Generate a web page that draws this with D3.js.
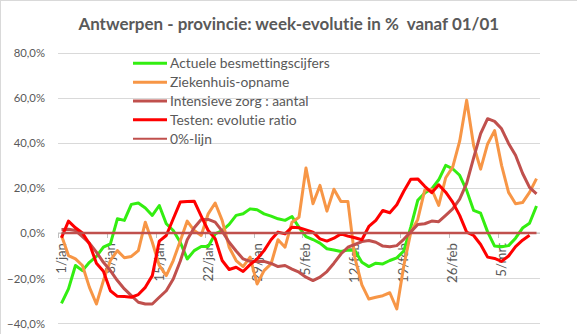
<!DOCTYPE html>
<html><head><meta charset="utf-8">
<script src="https://cdn.jsdelivr.net/npm/d3@7"></script>
<style>
body{margin:0;background:#fff}
svg{display:block}
text{font-family:Lato,"Open Sans",sans-serif;fill:#595959;font-variant-ligatures:none;font-feature-settings:"liga" 0,"clig" 0}
</style>
</head><body>
<svg id="chart" width="577" height="334"></svg>
<script>
// ---------- data ----------
const title = "Antwerpen - provincie: week-evolutie in %  vanaf 01/01";
const startDate = new Date(2021, 0, 1);
const dayCount = 69;
const xTickLabels = ["1/jan","8/jan","15/jan","22/jan","29/jan","5/feb","12/feb","19/feb","26/feb","5/mrt"];
const yTicks = [-40, -20, 0, 20, 40, 60, 80];

const besmettingen = [-31.2,-24.8,-14.4,-16.7,-13.0,-10.4,-6.3,-4.8,6.3,5.6,12.7,13.3,11.1,7.8,12.2,4.1,1.1,-4.1,-11.5,-7.8,-6.0,-6.0,-0.4,1.1,3.8,7.8,8.5,10.7,10.3,8.5,7.5,6.3,5.6,7.3,2.5,-1.6,-2.9,-4.5,-7.0,-7.5,-8.2,-7.5,-7.8,-13.0,-14.9,-13.4,-13.7,-12.2,-11.0,-8.0,2.6,14.5,17.7,19.6,23.6,30.0,28.5,25.6,18.9,10.0,8.8,0.5,-5.8,-6.1,-5.6,-2.3,2.2,4.3,12.0];
const ziekenhuis = [-1.1,-10.0,-11.5,-14.4,-24.1,-31.5,-21.1,-12.2,-7.8,-11.0,-10.4,-7.8,4.8,-4.1,-14.4,-18.9,-12.2,-3.5,5.3,1.1,-1.1,8.5,13.3,5.6,-6.3,-12.2,-14.9,-10.7,-22.6,-16.7,-13.7,-3.0,-6.3,4.8,7.0,28.8,13.0,21.1,9.7,19.4,14.0,14.0,-11.0,-23.0,-29.3,-28.5,-27.8,-26.5,-33.7,-14.5,0.2,6.0,19.0,19.4,12.2,24.5,29.2,40.7,58.9,38.8,28.3,39.5,45.4,30.0,18.0,13.0,13.5,18.0,24.1];
const intensieveZorg = [1.6,1.7,1.1,-1.6,-4.5,-8.5,-13.0,-16.7,-21.1,-24.8,-27.8,-30.7,-31.5,-31.5,-28.5,-25.6,-20.4,-12.5,-3.0,2.3,6.0,6.0,4.8,0.8,-4.1,-8.0,-11.5,-12.6,-12.6,-12.6,-13.5,-14.9,-14.4,-16.0,-17.4,-19.6,-21.1,-19.6,-17.1,-13.4,-9.3,-6.3,-5.1,-3.8,-3.3,-4.1,-5.8,-6.1,-5.6,-2.8,0.5,3.8,4.1,5.3,5.0,7.8,10.7,15.0,22.0,33.3,44.1,50.7,49.5,46.2,39.7,34.5,26.5,20.2,17.4];
const testen = [-2.1,5.3,2.3,0.0,-4.8,-13.4,-17.0,-25.6,-28.1,-28.2,-28.5,-27.3,-24.1,-18.9,-3.6,-1.1,6.3,13.7,14.0,14.1,7.5,1.1,-2.5,-12.2,-16.2,-15.2,-17.1,-14.0,-11.5,-7.8,-3.0,0.4,-0.4,2.6,2.3,1.4,0.4,-2.6,-3.6,-2.3,-0.4,-1.4,-2.1,-3.0,2.9,5.6,10.0,9.0,12.5,18.5,23.8,24.0,20.7,17.9,21.4,18.1,13.7,7.8,0.4,-1.1,-5.1,-10.7,-11.3,-12.6,-10.2,-6.0,-3.2,-1.0];
const nulLijn = new Array(69).fill(0);

const seriesNames = ["Actuele besmettingscijfers","Ziekenhuis-opname","Intensieve zorg : aantal","Testen: evolutie ratio","0%-lijn"];
const seriesValues = [besmettingen, ziekenhuis, intensieveZorg, testen, nulLijn];
const seriesColors = ["#33ee11","#f79646","#c0504d","#ff0000","#c0504d"];
const seriesWidths = [3, 3, 3, 3, 2.5];

// ---------- layout ----------
const svg = d3.select("#chart");
const plot = {left: 58, right: 540, top: 52.6, bottom: 323.2};

const days = d3.timeDay.range(startDate, d3.timeDay.offset(startDate, dayCount));
const fmtDay = d => d.getDate() + "/" + ["jan","feb","mrt"][d.getMonth()];
const categories = days.map(fmtDay);

const x = d3.scaleBand().domain(categories).range([plot.left, plot.right]).padding(0);
const xc = c => x(c) + x.bandwidth() / 2;
const y = d3.scaleLinear().domain([-40, 80]).range([plot.bottom, plot.top]);

// fit font size of a text element to a target width
function fit(sel, target, base) {
  sel.style("font-size", base + "px");
  const w = sel.node().getComputedTextLength();
  const s = base * target / w;
  sel.style("font-size", s + "px");
  return s;
}

// chart border (top & left visible)
svg.append("rect").attr("x", 0.5).attr("y", 0.5).attr("width", 700).attr("height", 500)
  .attr("fill", "none").attr("stroke", "#d9d9d9");

// title
const t = svg.append("text").attr("x", 288.8).attr("y", 30).attr("text-anchor", "middle")
  .style("font-weight", "bold").style("white-space", "pre").text(title);
fit(t, 421, 16);

// gridlines
svg.append("g").selectAll("line").data(yTicks).join("line")
  .attr("x1", plot.left).attr("x2", plot.right)
  .attr("y1", d => Math.round(y(d)) + 0.5).attr("y2", d => Math.round(y(d)) + 0.5)
  .attr("stroke", "#d9d9d9").attr("stroke-width", 1);

// y axis labels
const yAxis = d3.axisLeft(y).tickValues(yTicks).tickSize(0).tickPadding(0)
  .tickFormat(d => d3.format(".1f")(d).replace(".", ",") + "%");
const gy = svg.append("g").attr("transform", "translate(45,0)").call(yAxis);
gy.select(".domain").remove();
const probe = gy.select(".tick text");
const yFont = fit(probe, 38, 13);
gy.selectAll("text").style("font-size", yFont + "px").attr("fill", "#595959").attr("dy", "0.35em");
gy.attr("font-family", null);

// x axis line at 0 with ticks
const xTickCats = categories.filter(c => xTickLabels.includes(c));
svg.append("line").attr("x1", plot.left).attr("x2", plot.right)
  .attr("y1", y(0)).attr("y2", y(0)).attr("stroke", "#bfbfbf");
svg.append("g").selectAll("line").data(xTickCats).join("line")
  .attr("x1", d => Math.round(x(d)) + 0.5).attr("x2", d => Math.round(x(d)) + 0.5)
  .attr("y1", y(0)).attr("y2", y(0) + 5).attr("stroke", "#bfbfbf");

// x labels (rotated)
const gx = svg.append("g");
const xl = gx.selectAll("text").data(xTickCats).join("text")
  .attr("transform", d => `translate(${xc(d) + 4.5},243) rotate(-90)`)
  .attr("text-anchor", "end").text(d => d);
const xFont = fit(xl.filter(d => d === "26/feb"), 40, 13);
xl.style("font-size", xFont + "px");

// series
const line = d3.line().x((d, i) => xc(categories[i])).y(d => y(d));
svg.append("g").selectAll("path").data(seriesValues).join("path")
  .attr("d", d => line(d))
  .attr("fill", "none")
  .attr("stroke", (d, i) => seriesColors[i])
  .attr("stroke-width", (d, i) => seriesWidths[i])
  .attr("stroke-linejoin", "round").attr("stroke-linecap", "butt");

// legend
const lg = svg.append("g");
const rows = lg.selectAll("g").data(seriesNames).join("g")
  .attr("transform", (d, i) => `translate(0,${63.3 + i * 18.85})`);
rows.append("line").attr("x1", 133).attr("x2", 167).attr("y1", 0).attr("y2", 0)
  .attr("stroke", (d, i) => seriesColors[i])
  .attr("stroke-width", (d, i) => i === 4 ? 2 : 3);
const lt = rows.append("text").attr("x", 170).attr("y", 0).attr("dy", "0.35em").text(d => d);
const lFont = fit(lt.filter((d, i) => i === 0), 160, 13);
lt.style("font-size", lFont + "px");
</script>
</body></html>
